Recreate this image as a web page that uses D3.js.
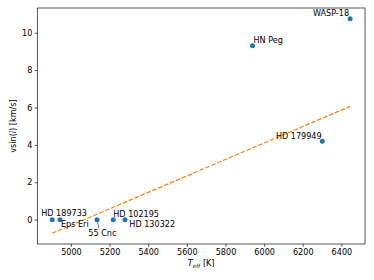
<!DOCTYPE html>
<html><head><meta charset="utf-8">
<script src="https://cdn.jsdelivr.net/npm/d3@7"></script>
<style>body{margin:0;background:#fff}text{font-family:"DejaVu Sans",sans-serif;}</style>
</head><body><svg id="c" width="374" height="280"></svg>
<script>
const stars = ["HD 189733","Eps Eri","55 Cnc","HD 102195","HD 130322","HN Peg","WASP-18","HD 179949"];
const teff = [4903, 4943, 5135, 5219, 5280, 5940, 6445, 6301];
const vsini = [0, 0, 0, 0, 0, 9.3, 10.75, 4.19];
const fitTeff = [4903, 6445];
const fitV = [-0.73, 6.06];
const xTicks = [5000, 5200, 5400, 5600, 5800, 6000, 6200, 6400];
const yTicks = [0, 2, 4, 6, 8, 10];
// label placement: [dx, dy, anchor]
const labelPlace = [[-11,-4,"start"],[1,7,"start"],[-8.7,16,"start"],[0,-3,"start"],[4.3,7,"start"],[1,-3,"start"],[-1,-2.3,"end"],[-0.6,-2.7,"end"]];

const L=37.3,R=365,T=8,B=244;
const svg=d3.select("#c");
const xr=d3.extent(teff.concat(fitTeff)), yr=d3.extent(vsini.concat(fitV));
const xm=(xr[1]-xr[0])*0.05, ym=(yr[1]-yr[0])*0.05;
const x=d3.scaleLinear().domain([xr[0]-xm,xr[1]+xm]).range([L,R]);
const y=d3.scaleLinear().domain([yr[0]-ym,yr[1]+ym]).range([B,T]);
const fs=8.1;

const xa=svg.append("g").attr("transform",`translate(0,${B})`).call(d3.axisBottom(x).tickValues(xTicks).tickSize(2.8).tickPadding(2.2).tickFormat(d3.format("d")));
const ya=svg.append("g").attr("transform",`translate(${L},0)`).call(d3.axisLeft(y).tickValues(yTicks).tickSize(2.8).tickPadding(2.2).tickFormat(d3.format("d")));
[xa,ya].forEach(a=>{a.select(".domain").remove();a.selectAll("text").attr("font-size",fs).attr("fill","#000").attr("font-family","DejaVu Sans");a.selectAll("line").attr("stroke","#000").attr("stroke-width",0.65);});

// points
svg.append("g").selectAll("circle").data(teff).join("circle")
 .attr("cx",d=>x(d)).attr("cy",(d,i)=>y(vsini[i])).attr("r",2.5).attr("fill","#1f77b4");

// fit line
svg.append("path").datum(fitTeff.map((d,i)=>[d,fitV[i]]))
 .attr("d",d3.line().x(d=>x(d[0])).y(d=>y(d[1])))
 .attr("fill","none").attr("stroke","#ff7f0e").attr("stroke-width",1.2).attr("stroke-dasharray","4.5,1.9");

// connector for 55 Cnc
const ci=stars.indexOf("55 Cnc");
svg.append("line").attr("x1",x(teff[ci])).attr("y1",y(vsini[ci])).attr("x2",x(teff[ci])+2).attr("y2",y(vsini[ci])+9)
 .attr("stroke","#555").attr("stroke-width",0.8);

// labels
svg.append("g").selectAll("text").data(stars).join("text")
 .attr("x",(d,i)=>x(teff[i])+labelPlace[i][0]).attr("y",(d,i)=>y(vsini[i])+labelPlace[i][1])
 .attr("text-anchor",(d,i)=>labelPlace[i][2]).attr("font-size",fs).attr("fill","#000").text(d=>d);

// frame
svg.append("rect").attr("x",L).attr("y",T).attr("width",R-L).attr("height",B-T).attr("fill","none").attr("stroke","#000").attr("stroke-width",0.65);

// axis labels
const xl=svg.append("text").attr("x",(L+R)/2).attr("y",266).attr("text-anchor","middle").attr("font-size",fs);
xl.append("tspan").attr("font-style","italic").text("T");
xl.append("tspan").attr("font-style","italic").attr("font-size",5.7).attr("dy",2).text("eff");
xl.append("tspan").attr("dy",-2).text(" [K]");
const yl=svg.append("text").attr("transform",`translate(15.5,${(T+B)/2}) rotate(-90)`).attr("text-anchor","middle").attr("font-size",fs);
yl.append("tspan").text("vsin(");
yl.append("tspan").attr("font-style","italic").text("i");
yl.append("tspan").text(") [km/s]");
</script></body></html>
